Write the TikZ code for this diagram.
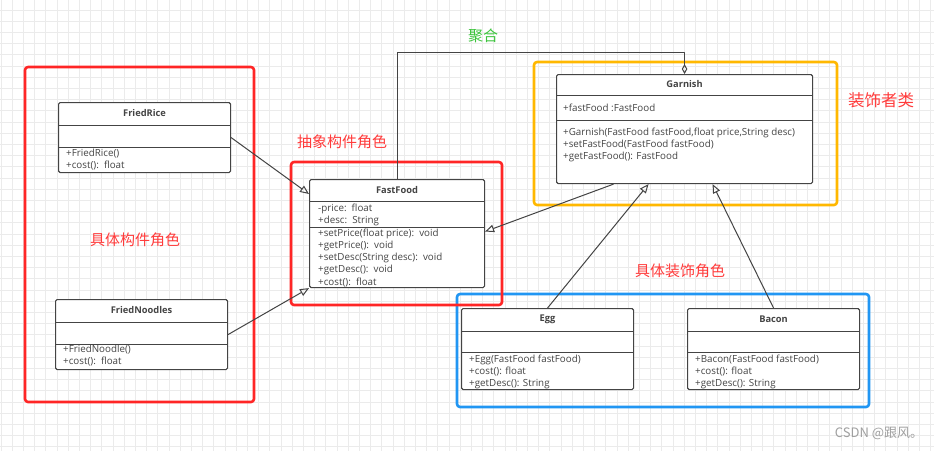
\documentclass[tikz,border=0pt]{standalone}
\usepackage{fontspec}
\setmainfont{Open Sans}
\newfontfamily\cjk{Noto Sans CJK SC}
\usetikzlibrary{arrows.meta}
\definecolor{framered}{HTML}{FF2626}
\definecolor{frameyellow}{HTML}{FFB800}
\definecolor{frameblue}{HTML}{2196F3}
\definecolor{labelred}{HTML}{FF3B3B}
\definecolor{labelgreen}{HTML}{3CC43C}
\definecolor{umlgray}{HTML}{444444}
\definecolor{gridgray}{HTML}{EBEBEB}

\begin{document}
\begin{tikzpicture}[x=1pt, y=-1pt, line join=round]
\tikzstyle{grid_style} = [draw=gridgray, line width=0.8pt]
\tikzstyle{class_box} = [draw=umlgray, line width=1.1pt, rounded corners=1.5pt, fill=white, anchor=north west, inner sep=0pt]
\tikzstyle{class_line} = [draw=umlgray, line width=0.9pt]
\tikzstyle{title_style} = [font=\bfseries\fontsize{9.3}{11}\selectfont, text=umlgray, inner sep=0pt]
\tikzstyle{member_style} = [font=\fontsize{9.8}{12.2}\selectfont, text=umlgray, align=left, anchor=north west, inner sep=0pt]
\tikzstyle{frame_style} = [line width=2.6pt, rounded corners=3pt]
\tikzstyle{label_style} = [font=\cjk\fontsize{15}{17}\selectfont, inner sep=0pt]
\tikzstyle{edge_style} = [draw=umlgray, line width=1pt, -{Triangle[open, length=9pt, width=7.5pt]}]
\tikzstyle{aggr_style} = [draw=umlgray, line width=1pt, -{Diamond[open, length=10pt, width=5.5pt]}]

\useasboundingbox (0,0) rectangle (934,451);
\fill[white] (0,0) rectangle (934,451);
\foreach \i in {0,...,83} \draw[grid_style] (1+11.2*\i,0) -- (1+11.2*\i,451);
\foreach \j in {0,...,39} \draw[grid_style] (0,10+11.2*\j) -- (934,10+11.2*\j);

% role frames
\draw[frame_style, frameblue] (457,294) rectangle (869,407);
\draw[frame_style, frameyellow] (534,62) rectangle (837,205);
\draw[frame_style, framered] (25,67) rectangle (254,402);
\draw[frame_style, framered] (291,162) rectangle (502,305);

% FriedRice
\node[class_box, minimum width=172pt, minimum height=70pt] (rice) at (58,102) {};
\draw[class_line] ([yshift=-23pt]rice.north west) -- ([yshift=-23pt]rice.north east);
\draw[class_line] ([yshift=-45pt]rice.north west) -- ([yshift=-45pt]rice.north east);
\node[title_style] (rice_t) at ([yshift=-11.5pt]rice.north) {FriedRice};
\node[member_style] (rice_m) at ([shift={(8pt,-45.5pt)}]rice.north west) {\strut+FriedRice()\\+cost():\ \ float};

% FriedNoodles
\node[class_box, minimum width=172pt, minimum height=70pt] (noodles) at (55,299) {};
\draw[class_line] ([yshift=-23pt]noodles.north west) -- ([yshift=-23pt]noodles.north east);
\draw[class_line] ([yshift=-45pt]noodles.north west) -- ([yshift=-45pt]noodles.north east);
\node[title_style] (noodles_t) at ([yshift=-11.5pt]noodles.north) {FriedNoodles};
\node[member_style] (noodles_m) at ([shift={(8pt,-44.5pt)}]noodles.north west) {\strut+FriedNoodle()\\+cost():\ \ float};

% FastFood
\node[class_box, minimum width=175pt, minimum height=108pt] (ff) at (309,179) {};
\draw[class_line] ([yshift=-22pt]ff.north west) -- ([yshift=-22pt]ff.north east);
\draw[class_line] ([yshift=-48pt]ff.north west) -- ([yshift=-48pt]ff.north east);
\node[title_style] (ff_t) at ([yshift=-11pt]ff.north) {FastFood};
\node[member_style] (ff_a) at ([shift={(9pt,-23.5pt)}]ff.north west) {\strut-price:\ \ float\\+desc:\ \ String};
\node[member_style] (ff_m) at ([shift={(9pt,-48.5pt)}]ff.north west) {\strut+setPrice(float price):\ \ void\\+getPrice():\ \ void\\+setDesc(String desc):\ \ void\\+getDesc():\ \ void\\+cost():\ \ float};

% Garnish
\node[class_box, minimum width=256pt, minimum height=109pt] (gar) at (556,74) {};
\draw[class_line] ([yshift=-21pt]gar.north west) -- ([yshift=-21pt]gar.north east);
\draw[class_line] ([yshift=-46pt]gar.north west) -- ([yshift=-46pt]gar.north east);
\node[title_style] (gar_t) at ([yshift=-10.5pt]gar.north) {Garnish};
\node[member_style] (gar_a) at ([shift={(7pt,-28.5pt)}]gar.north west) {\strut+fastFood :FastFood};
\node[member_style] (gar_m) at ([shift={(7pt,-52.5pt)}]gar.north west) {\strut+Garnish(FastFood fastFood,float price,String desc)\\+setFastFood(FastFood fastFood)\\+getFastFood(): FastFood};

% Egg
\node[class_box, minimum width=172pt, minimum height=81pt] (egg) at (461,308) {};
\draw[class_line] ([yshift=-23pt]egg.north west) -- ([yshift=-23pt]egg.north east);
\draw[class_line] ([yshift=-44pt]egg.north west) -- ([yshift=-44pt]egg.north east);
\node[title_style] (egg_t) at ([yshift=-11.5pt]egg.north) {Egg};
\node[member_style] (egg_m) at ([shift={(8pt,-45.5pt)}]egg.north west) {\strut+Egg(FastFood fastFood)\\+cost(): float\\+getDesc(): String};

% Bacon
\node[class_box, minimum width=172pt, minimum height=81pt] (bacon) at (687,308) {};
\draw[class_line] ([yshift=-23pt]bacon.north west) -- ([yshift=-23pt]bacon.north east);
\draw[class_line] ([yshift=-44pt]bacon.north west) -- ([yshift=-44pt]bacon.north east);
\node[title_style] (bacon_t) at ([yshift=-11.5pt]bacon.north) {Bacon};
\node[member_style] (bacon_m) at ([shift={(8pt,-45.5pt)}]bacon.north west) {\strut+Bacon(FastFood fastFood)\\+cost(): float\\+getDesc(): String};

% relations
\draw[edge_style] (rice.east) -- ([yshift=-15pt]ff.north west);
\draw[edge_style] (noodles.east) -- (ff.south west);
\draw[edge_style] ([xshift=-71pt]gar.south) -- ([yshift=2pt]ff.east);
\draw[edge_style] (egg.north) -- ([xshift=-36pt]gar.south);
\draw[edge_style] (bacon.north) -- ([xshift=28pt]gar.south);
\draw[aggr_style] (ff.north) |- ([yshift=22pt]gar.north) -- (gar.north);

% role labels
\node[label_style, text=labelred] (concrete_lbl) at (135,240) {具体构件角色};
\node[label_style, text=labelred] (abstract_lbl) at (342,142) {抽象构件角色};
\node[label_style, text=labelgreen] (aggr_lbl) at (483,36) {聚合};
\node[label_style, text=labelred, font=\cjk\fontsize{16.5}{18}\selectfont] (decor_lbl) at (881,100) {装饰者类};
\node[label_style, text=labelred] (cdecor_lbl) at (680,271) {具体装饰角色};
\node[font=\cjk\fontsize{13}{15}\selectfont, text=gray!75, inner sep=0pt] (mark) at (879,433) {CSDN @跟风。};
\end{tikzpicture}
\end{document}
